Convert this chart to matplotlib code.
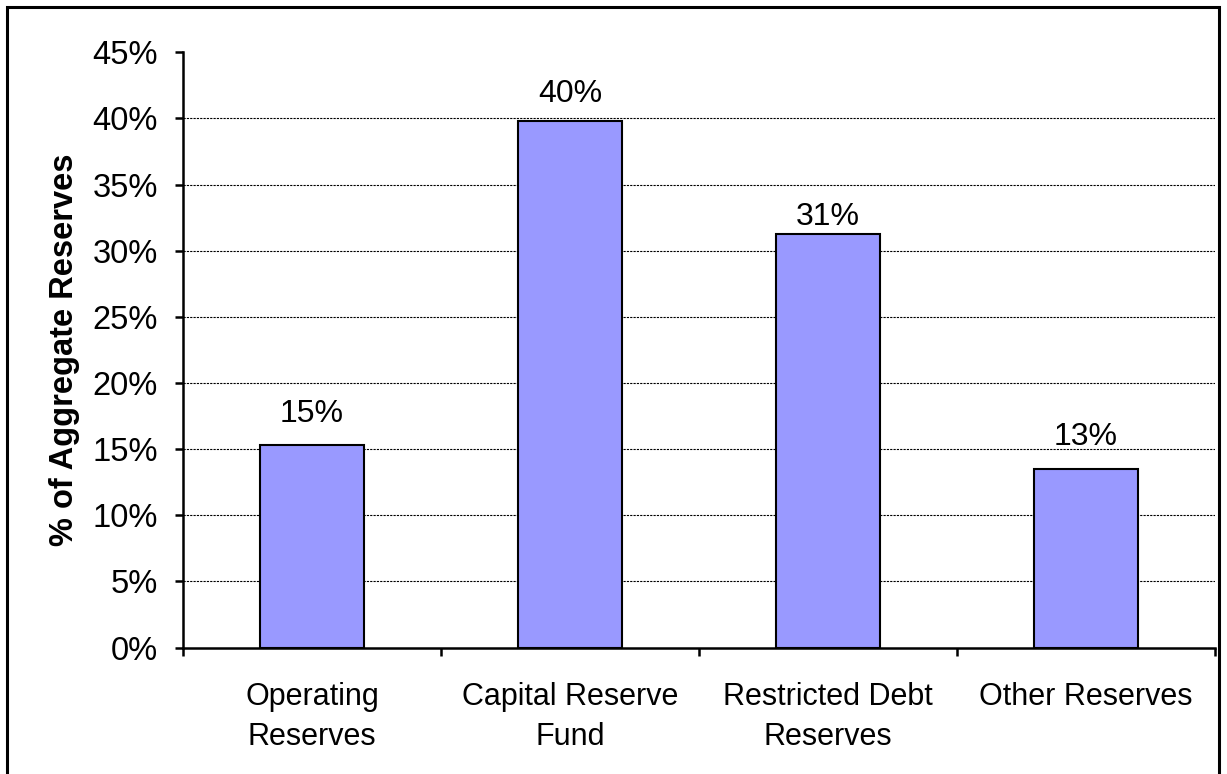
import numpy as np
import matplotlib.pyplot as plt
from matplotlib.patches import Rectangle
from matplotlib.ticker import PercentFormatter

plt.rcParams['font.family'] = ['Liberation Sans', 'DejaVu Sans']

categories = ["Operating\nReserves", "Capital Reserve\nFund", "Restricted Debt\nReserves", "Other Reserves"]
values = [0.153, 0.398, 0.313, 0.135]
labels = ["15%", "40%", "31%", "13%"]
label_gap = [16, 12, 2, 17]  # px above the bar, as placed in the original

fig = plt.figure(figsize=(12.27, 7.74), dpi=100)
ax = fig.add_axes([183/1227, 1-647.5/774, (1215-183)/1227, (647.5-52.3)/774])

# outer frame around the chart
fig.patches.append(Rectangle((7/1227, -0.05), (1219-7)/1227, 1.05-7/774, transform=fig.transFigure,
                             fill=False, edgecolor='black', linewidth=2.2))

x = np.arange(len(categories))
ax.bar(x, values, width=0.4, color='#9999FF', edgecolor='black', linewidth=1.5, zorder=3)

for xi, v, lab, g in zip(x, values, labels, label_gap):
    ax.annotate(lab, (xi, v), xytext=(0, g * 0.72), textcoords='offset points',
                ha='center', va='bottom', fontsize=23)

ax.set_xlim(-0.5, len(categories) - 0.5)
ax.set_ylim(0, 0.45)
ax.set_yticks(np.arange(0, 0.4501, 0.05))
ax.yaxis.set_major_formatter(PercentFormatter(1.0, decimals=0))
ax.tick_params(axis='y', labelsize=23.5, length=6, width=1.8, pad=12)

ax.set_xticks(np.arange(-0.5, len(categories), 1.0))
ax.set_xticklabels([])
ax.tick_params(axis='x', length=6, width=1.8)
for xi, c in zip(x, categories):
    ax.text(xi, -0.026, c, ha='center', va='top', fontsize=22, linespacing=1.42)

for yv in np.arange(0.05, 0.4001, 0.05):
    ax.axhline(yv, color='black', linewidth=0.8, linestyle=(0, (2, 1)), zorder=1)

ax.spines['top'].set_visible(False)
ax.spines['right'].set_visible(False)
ax.spines['left'].set_linewidth(1.8)
ax.spines['bottom'].set_linewidth(1.8)

ax.set_ylabel("% of Aggregate Reserves", fontsize=23.5, fontweight='bold', labelpad=9)

fig.savefig("out.png", dpi=100)
